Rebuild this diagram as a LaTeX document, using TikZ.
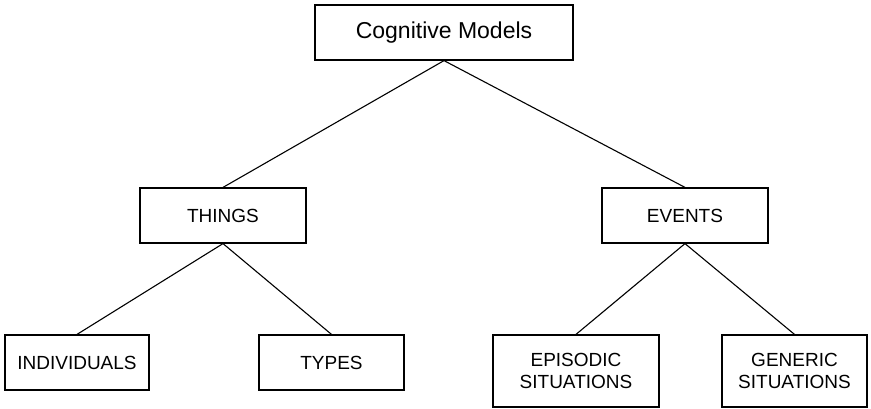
\documentclass[tikz,border=0pt]{standalone}
\usepackage{fontspec}
\setmainfont{Liberation Sans}
\begin{document}
\begin{tikzpicture}[x=1pt,y=-1pt,
  box/.style={draw, line width=1.2pt, rectangle, inner sep=0pt, align=center,
              font=\fontsize{19}{22.5}\selectfont},
  link/.style={line width=1.1pt}]
\useasboundingbox (0,0) rectangle (871,409);
% boxes
\node[box, minimum width=258pt, minimum height=55pt,
      font=\fontsize{23}{27}\selectfont] (cm) at (444,32.5) {Cognitive Models};
\node[box, minimum width=166pt, minimum height=55pt] (things) at (223,215.5) {THINGS};
\node[box, minimum width=166pt, minimum height=55pt] (events) at (685,215.5) {EVENTS};
\node[box, minimum width=144pt, minimum height=55pt] (indiv) at (77,362.5) {INDIVIDUALS};
\node[box, minimum width=145pt, minimum height=55pt] (types) at (331.5,362.5) {TYPES};
\node[box, minimum width=166pt, minimum height=72pt] (episodic) at (576,371) {EPISODIC\\SITUATIONS};
\node[box, minimum width=145pt, minimum height=72pt] (generic) at (794.5,371) {GENERIC\\SITUATIONS};
% tree branches
\draw[link] (things.north) -- (cm.south) -- (events.north);
\draw[link] (indiv.north) -- (things.south) -- (types.north);
\draw[link] (episodic.north) -- (events.south) -- (generic.north);
\end{tikzpicture}
\end{document}
